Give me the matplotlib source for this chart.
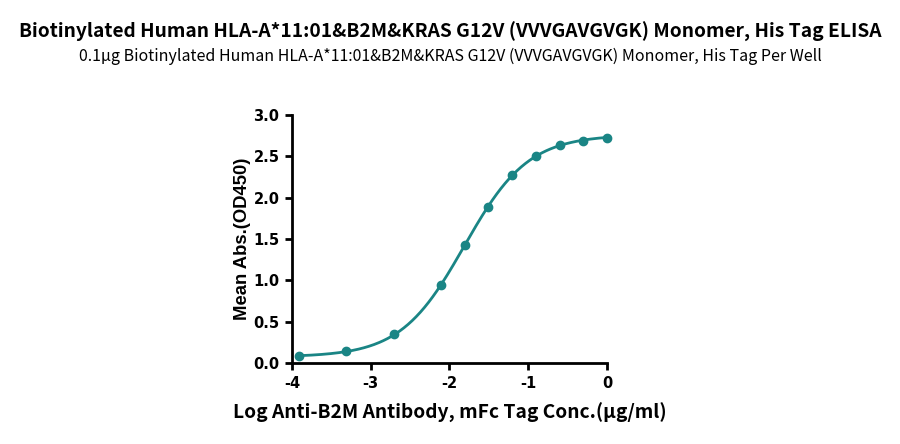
import matplotlib
matplotlib.use("Agg")
import matplotlib.pyplot as plt
import numpy as np

plt.rcParams["axes.unicode_minus"] = False

# log concentration (ug/ml) and mean OD450
log_conc = [-3.913, -3.311, -2.709, -2.107, -1.806, -1.505, -1.204, -0.903, -0.602, -0.301, 0.0]
od450 = [0.08, 0.14, 0.35, 0.94, 1.43, 1.89, 2.27, 2.51, 2.64, 2.69, 2.72]

TEAL = "#1a8585"
TITLE = "Biotinylated Human HLA-A*11:01&B2M&KRAS G12V (VVVGAVGVGK) Monomer, His Tag ELISA"
SUBTITLE = "0.1μg Biotinylated Human HLA-A*11:01&B2M&KRAS G12V (VVVGAVGVGK) Monomer, His Tag Per Well"


def four_pl(x, p):
    bottom, top, logec50, hill = p
    return bottom + (top - bottom) / (1 + 10 ** ((logec50 - x) * hill))


def fit_4pl(x, y, p0, n_iter=60):
    # small Gauss-Newton / LM fit, numpy only
    p = np.array(p0, dtype=float)
    lam = 1e-3
    for _ in range(n_iter):
        r = y - four_pl(x, p)
        J = np.empty((len(x), len(p)))
        for i in range(len(p)):
            dp = np.zeros_like(p); dp[i] = 1e-6
            J[:, i] = (four_pl(x, p + dp) - four_pl(x, p - dp)) / 2e-6
        A = J.T @ J
        step = np.linalg.solve(A + lam * np.diag(np.diag(A)), J.T @ r)
        p_new = p + step
        if np.sum((y - four_pl(x, p_new)) ** 2) < np.sum(r ** 2):
            p, lam = p_new, lam * 0.5
        else:
            lam *= 4
    return p


x = np.array(log_conc)
y = np.array(od450)
params = fit_4pl(x, y, [0.07, 2.75, -1.9, 1.3])
xs = np.linspace(x.min(), x.max(), 300)

fig = plt.figure(figsize=(9, 4.44), dpi=100)
ax = fig.add_axes([0.3244, 0.1824, 0.35, 0.5586])

ax.plot(xs, four_pl(xs, params), color=TEAL, lw=2.0, zorder=2)
ax.plot(x, y, "o", color=TEAL, ms=6, zorder=3, clip_on=False)

ax.set_xlim(-4, 0)
ax.set_ylim(0, 3.0)
ax.set_xticks([-4, -3, -2, -1, 0])
ax.set_yticks([0, 0.5, 1.0, 1.5, 2.0, 2.5, 3.0])
ax.set_yticklabels(["0.0", "0.5", "1.0", "1.5", "2.0", "2.5", "3.0"])
for s in ["top", "right"]:
    ax.spines[s].set_visible(False)
for s in ["left", "bottom"]:
    ax.spines[s].set_linewidth(2.0)
ax.tick_params(direction="out", width=2.0, length=5, labelsize=10.5, pad=4)
for lab in ax.get_xticklabels() + ax.get_yticklabels():
    lab.set_fontweight("bold")
    lab.set_family("DejaVu Sans")

ax.set_ylabel("Mean Abs.(OD450)", fontsize=13.3, fontweight="bold",
              family="Liberation Sans", labelpad=2)
ax.set_xlabel("Log Anti-B2M Antibody, mFc Tag Conc.(μg/ml)", fontsize=13.8,
              fontweight="bold", family=["Noto Sans CJK SC", "DejaVu Sans"], labelpad=9)

fig.text(0.5, 0.928, TITLE, ha="center", va="center", fontsize=13.8,
         fontweight="bold", family=["Noto Sans CJK SC", "DejaVu Sans"])
fig.text(0.5, 0.872, SUBTITLE, ha="center", va="center", fontsize=11.5,
         family=["Noto Sans CJK SC", "DejaVu Sans"])

fig.savefig("out.png", dpi=100, facecolor="white")
